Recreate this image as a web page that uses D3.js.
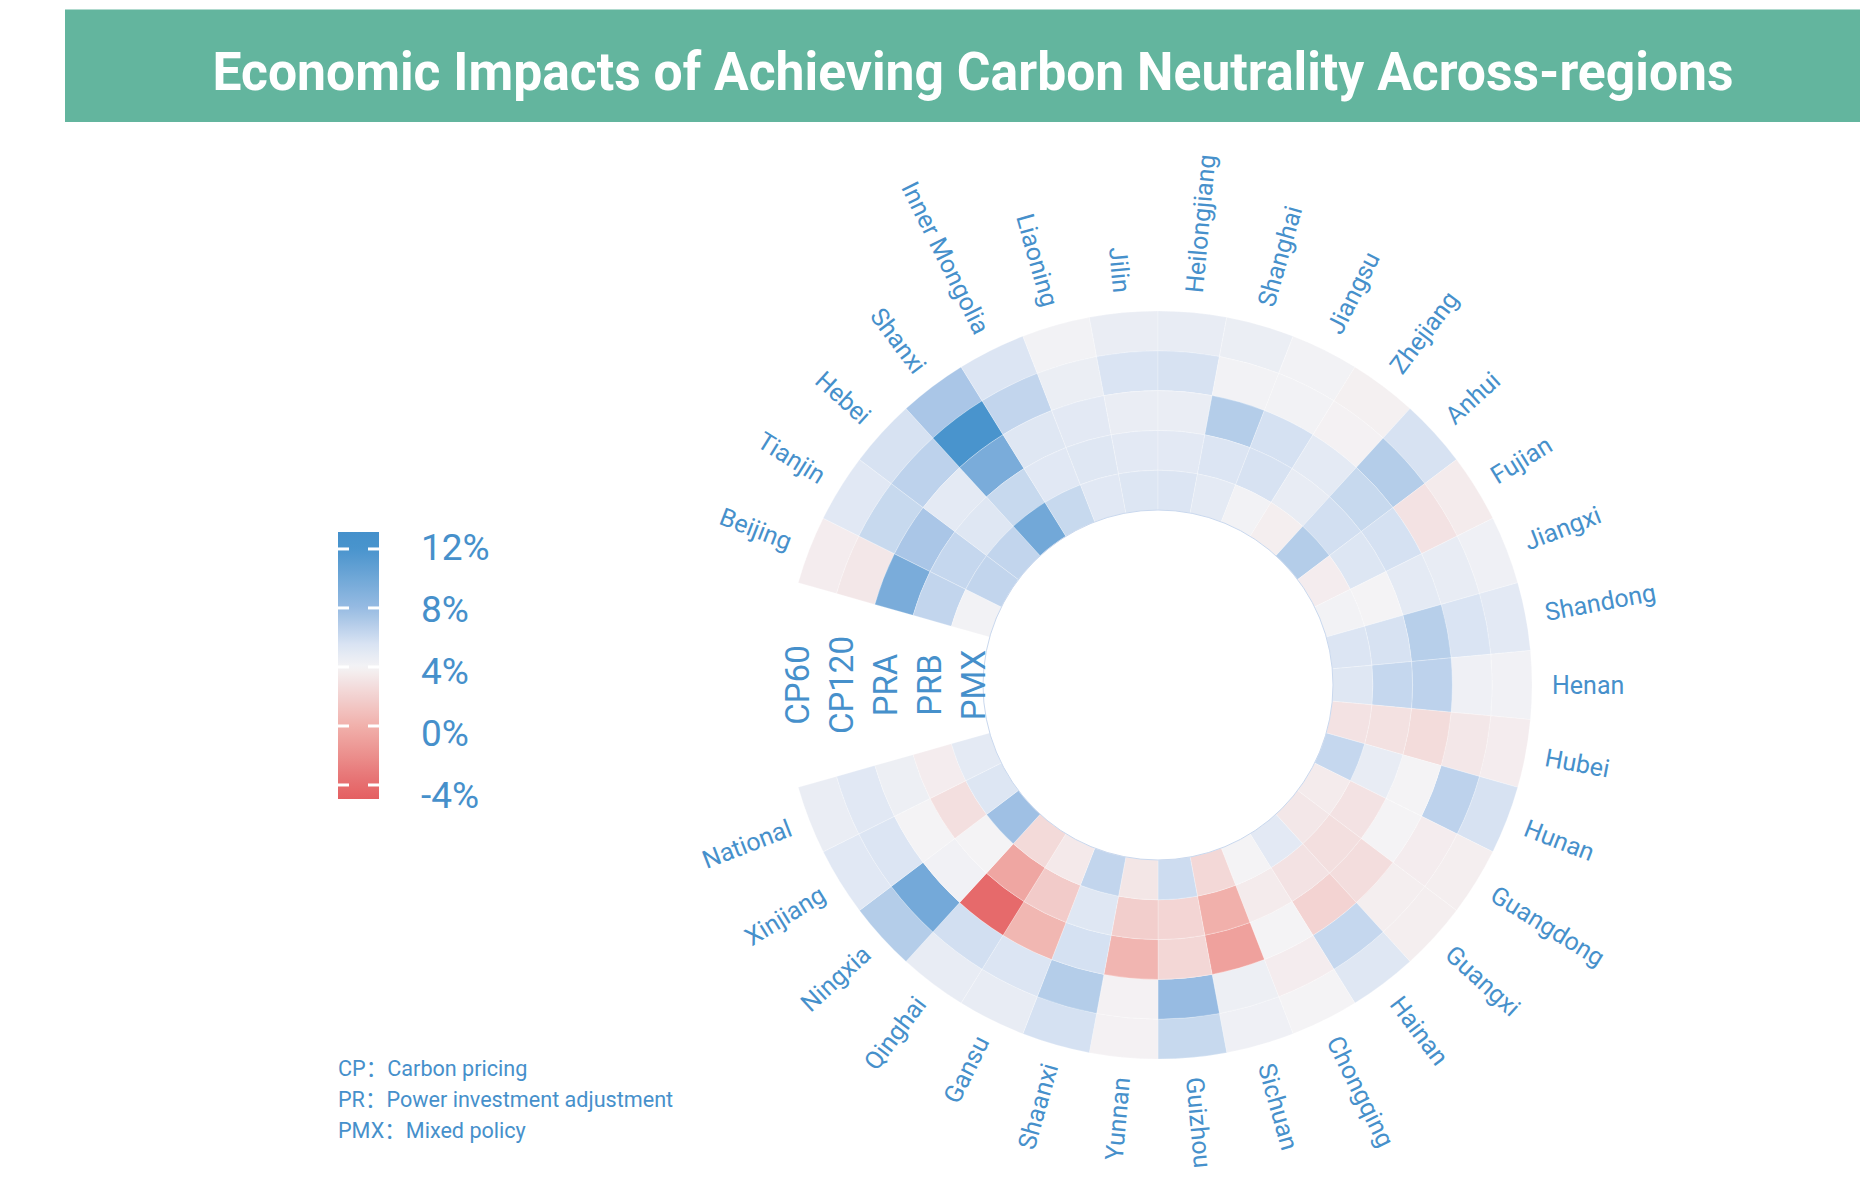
<!DOCTYPE html>
<html>
<head>
<meta charset="utf-8">
<title>Economic Impacts of Achieving Carbon Neutrality Across-regions</title>
<script src="https://d3js.org/d3.v7.min.js"></script>
<style>
body { margin: 0; background: #fff; font-family: Roboto, "Noto Sans", sans-serif; }
svg { display: block; }
</style>
</head>
<body>
<script>
// regions, clockwise starting just above the gap
var regions = ["Beijing", "Tianjin", "Hebei", "Shanxi", "Inner Mongolia", "Liaoning", "Jilin",
  "Heilongjiang", "Shanghai", "Jiangsu", "Zhejiang", "Anhui", "Fujian", "Jiangxi", "Shandong",
  "Henan", "Hubei", "Hunan", "Guangdong", "Guangxi", "Hainan", "Chongqing", "Sichuan", "Guizhou",
  "Yunnan", "Shaanxi", "Gansu", "Qinghai", "Ningxia", "Xinjiang", "National"];

// rings, outside -> inside
var policies = ["CP60", "CP120", "PRA", "PRB", "PMX"];

// GDP impact (%) per region, one array per scenario
var cp60  = [3.6, 5.1, 5.6, 7.3, 5.4, 4.1, 4.6, 4.7, 4.5, 4.1, 3.8, 5.6, 3.5, 4.3, 5.0, 4.2,
             3.6, 5.6, 3.7, 3.7, 5.2, 4.0, 4.3, 6.2, 3.9, 5.7, 4.7, 4.7, 6.9, 5.1, 4.6];
var cp120 = [3.3, 6.2, 6.6, 12.0, 6.4, 4.5, 5.5, 5.6, 4.1, 4.1, 3.9, 6.9, 3.0, 4.7, 5.5, 4.3,
             3.3, 6.6, 3.6, 3.7, 6.3, 3.6, 4.4, 8.0, 3.9, 6.9, 5.4, 5.8, 9.8, 5.4, 5.1];
var pra   = [9.5, 7.3, 4.9, 9.5, 5.2, 5.0, 4.6, 4.6, 6.9, 5.7, 4.9, 6.2, 5.7, 4.9, 6.8, 6.6,
             2.6, 4.0, 4.0, 2.7, 2.1, 4.0, -0.9, 2.3, 0.3, 5.7, 0.4, -4.2, 4.2, 4.0, 4.4];
var prb   = [6.4, 6.3, 5.2, 6.2, 5.1, 5.2, 5.0, 5.0, 5.4, 5.6, 4.7, 5.8, 5.3, 4.0, 5.6, 6.3,
             2.9, 4.7, 3.0, 2.8, 3.0, 3.5, 0.0, 2.2, 1.8, 5.2, 1.6, -0.6, 4.0, 2.8, 3.6];
var pmx   = [4.1, 6.4, 6.4, 9.9, 6.2, 5.1, 5.3, 5.4, 4.9, 4.1, 3.7, 6.9, 3.6, 4.1, 5.4, 5.2,
             3.0, 6.3, 3.5, 3.3, 5.0, 4.0, 2.4, 6.0, 3.2, 6.4, 3.4, 2.5, 7.7, 5.3, 4.9];

var legendTicks = [12, 8, 4, 0, -4];
var notes = ["CP：Carbon pricing", "PR：Power investment adjustment", "PMX：Mixed policy"];

var width = 1860;
var height = 1179;
var cx = 1158, cy = 685;
var textBlue = "#4690cb";

var series = { CP60: cp60, CP120: cp120, PRA: pra, PRB: prb, PMX: pmx };
var cells = [];
policies.forEach(function(p) {
  regions.forEach(function(r, i) { cells.push({ policy: p, region: r, value: series[p][i] }); });
});

// diverging colour, neutral around 4%
var color = d3.scaleLinear()
  .domain([-5, -4, 0, 4, 5.5, 8, 12, 13.2])
  .range(["#e45e60", "#e66d6e", "#f1b0ab", "#f4f3f5", "#dae4f3", "#97bbe2", "#4994cd", "#4490cb"])
  .clamp(true);

var svg = d3.select("body").append("svg")
  .attr("width", width)
  .attr("height", height);

// title banner
svg.append("rect")
  .attr("x", 65).attr("y", 9.5)
  .attr("width", width - 65).attr("height", 112.5)
  .attr("fill", "#63b59e");
svg.append("text")
  .attr("x", 973).attr("y", 90)
  .attr("text-anchor", "middle")
  .attr("font-size", 54)
  .attr("font-weight", "bold")
  .attr("fill", "#fff")
  .attr("textLength", 1521)
  .attr("lengthAdjust", "spacingAndGlyphs")
  .text("Economic Impacts of Achieving Carbon Neutrality Across-regions");

// polar heatmap: 34 slots, 3 left empty on the left side
var slot = 2 * Math.PI / (regions.length + 3);
var start = 1.5 * Math.PI + 1.5 * slot;
var angle = d3.scaleBand().domain(regions).range([start, start + regions.length * slot]);
var radius = d3.scaleBand().domain(policies).range([374, 175]);

var arc = d3.arc()
  .innerRadius(function(d) { return radius(d.policy); })
  .outerRadius(function(d) { return radius(d.policy) + radius.bandwidth(); })
  .startAngle(function(d) { return angle(d.region); })
  .endAngle(function(d) { return angle(d.region) + angle.bandwidth(); });

var g = svg.append("g").attr("transform", "translate(" + cx + "," + cy + ")");

g.selectAll("path.cell")
  .data(cells)
  .enter()
  .append("path")
  .attr("class", "cell")
  .attr("d", arc)
  .attr("fill", function(d) { return color(d.value); })
  .attr("stroke", "#fff")
  .attr("stroke-opacity", 0.35)
  .attr("stroke-width", 0.7);

g.append("circle")
  .attr("r", radius.range()[1])
  .attr("fill", "none")
  .attr("stroke", "#c9d8ee")
  .attr("stroke-width", 1);

// region labels around the ring
var labelR = 394;
g.selectAll("text.region")
  .data(regions)
  .enter()
  .append("text")
  .attr("class", "region")
  .attr("font-size", 25)
  .attr("fill", textBlue)
  .attr("dominant-baseline", "central")
  .attr("text-anchor", function(d) {
    var deg = ((angle(d) + angle.bandwidth() / 2) * 180 / Math.PI) % 360;
    return deg < 180 ? "start" : "end";
  })
  .attr("transform", function(d) {
    var a = angle(d) + angle.bandwidth() / 2;
    var deg = (a * 180 / Math.PI) % 360;
    var x = labelR * Math.sin(a), y = -labelR * Math.cos(a);
    var rot = deg < 180 ? deg - 90 : deg + 90;
    return "translate(" + x + "," + y + ") rotate(" + rot + ")";
  })
  .text(function(d) { return d; });

// ring names in the gap
var ringLabel = d3.scaleBand().domain(policies).range([383, 163]);
g.selectAll("text.ring")
  .data(policies)
  .enter()
  .append("text")
  .attr("class", "ring")
  .attr("font-size", 33)
  .attr("fill", textBlue)
  .attr("text-anchor", "middle")
  .attr("dominant-baseline", "central")
  .attr("transform", function(d) {
    var x = -(ringLabel(d) + ringLabel.bandwidth() / 2);
    return "translate(" + x + ",0) rotate(-90)";
  })
  .text(function(d) { return d; });

// colour legend
var barX = 338, barW = 41;
var bar = d3.scaleLinear().domain([-4.95, 13.15]).range([799, 532]);
var labelY = d3.scaleLinear().domain([-4, 12]).range([795, 547]);

var grad = svg.append("defs").append("linearGradient")
  .attr("id", "legendGrad")
  .attr("x1", 0).attr("y1", 0).attr("x2", 0).attr("y2", 1);
d3.range(0, 1.0001, 0.02).forEach(function(t) {
  var v = bar.domain()[1] - t * (bar.domain()[1] - bar.domain()[0]);
  grad.append("stop").attr("offset", t).attr("stop-color", color(v));
});

svg.append("rect")
  .attr("x", barX).attr("y", bar.range()[1])
  .attr("width", barW).attr("height", bar.range()[0] - bar.range()[1])
  .attr("fill", "url(#legendGrad)");

var ticks = svg.append("g");
legendTicks.forEach(function(v) {
  [barX, barX + barW - 11].forEach(function(x) {
    ticks.append("rect")
      .attr("x", x).attr("y", bar(v) - 1.5)
      .attr("width", 11).attr("height", 3)
      .attr("fill", "#fff");
  });
});

svg.selectAll("text.legend")
  .data(legendTicks)
  .enter()
  .append("text")
  .attr("class", "legend")
  .attr("x", 421)
  .attr("y", function(d) { return labelY(d); })
  .attr("dominant-baseline", "central")
  .attr("font-size", 37)
  .attr("fill", textBlue)
  .text(function(d) { return d + "%"; });

// notes
svg.selectAll("text.note")
  .data(notes)
  .enter()
  .append("text")
  .attr("class", "note")
  .attr("x", 338)
  .attr("y", function(d, i) { return 1076 + i * 31; })
  .attr("font-size", 21.6)
  .attr("font-family", "Roboto, 'Noto Sans CJK SC', sans-serif")
  .attr("fill", textBlue)
  .text(function(d) { return d; });
</script>
</body>
</html>
